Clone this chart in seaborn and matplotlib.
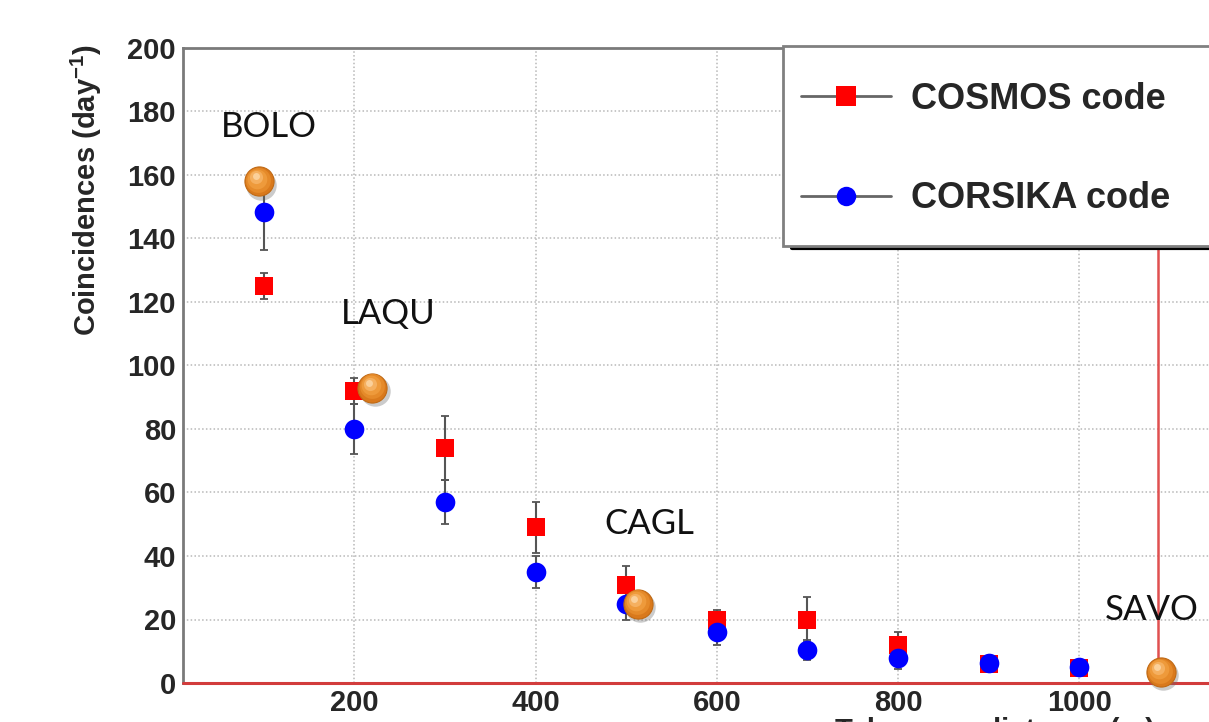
import numpy as np
import pandas as pd
import matplotlib
matplotlib.use("Agg")
import matplotlib.pyplot as plt
import matplotlib.transforms as mtransforms
from matplotlib.lines import Line2D
from matplotlib.patches import Rectangle
import seaborn as sns

# ---------------- data ----------------
distance = [100, 200, 300, 400, 500, 600, 700, 800, 900, 1000]
cosmos = [125, 92, 74, 49, 31, 20, 20, 12, 6, 4.6]
cosmos_err = [4, 4, 10, 8, 6, 3, 7, 4, 1.5, 1.5]
corsika = [148.5, 80, 57, 35, 25, 16, 10.4, 8, 6.2, 5.1]
corsika_err = [12, 8, 7, 5, 5, 4, 3, 3.5, 1.5, 1.5]

sites = ["BOLO", "LAQU", "CAGL", "SAVO"]
site_x = [95, 220, 513, 1090]
site_y = [158, 93, 25, 3.5]
site_label_pos = [(53, 172), (185, 113), (476, 47), (1028, 20)]
savo_line_x = 1087

series_names = ["COSMOS code", "CORSIKA code"]

# ---------------- figure ----------------
sns.set_style("white")
plt.rcParams["font.family"] = ["Liberation Sans", "DejaVu Sans"]
plt.rcParams["mathtext.fontset"] = "custom"
plt.rcParams["mathtext.rm"] = "Liberation Sans:bold"
plt.rcParams["mathtext.bf"] = "Liberation Sans:bold"
plt.rcParams["mathtext.default"] = "bf"

W, H = 1209, 722
fig = plt.figure(figsize=(W / 100, H / 100), dpi=100)
ax = fig.add_axes([183 / W, 1 - 683 / H, (W - 183) / W, 635 / H])

ax.set_xlim(11, 1143)
ax.set_ylim(0, 200)

# grid
ax.set_xticks([200, 400, 600, 800, 1000])
ax.set_xticks(np.arange(50, 1143, 50), minor=True)
ax.set_yticks(np.arange(0, 201, 20))
ax.set_yticks(np.arange(0, 201, 5), minor=True)
ax.grid(True, which="major", color="#b8b8b8", linestyle=(0, (1, 1.5)), linewidth=1.1)
ax.set_axisbelow(True)

gray = "#7a7a7a"
ax.tick_params(axis="x", which="major", direction="in", length=14, width=1.6, color=gray,
               labelsize=21, pad=4)
ax.tick_params(axis="x", which="minor", direction="in", length=7, width=1.4, color=gray)
ax.tick_params(axis="y", which="major", direction="in", length=19, width=1.6, color=gray,
               labelsize=21, pad=5)
ax.tick_params(axis="y", which="minor", direction="in", length=10, width=1.4, color=gray)
for lab in ax.get_xticklabels() + ax.get_yticklabels():
    lab.set_fontweight("bold")

for side in ["left", "top", "bottom"]:
    ax.spines[side].set_color(gray)
    ax.spines[side].set_linewidth(2)
ax.spines["right"].set_visible(False)

# red lines (axis at 0 and SAVO vertical)
ax.axhline(0, color="#d23c3c", lw=2.2, zorder=3, clip_on=False)
ax.axvline(savo_line_x, color="#e05050", lw=1.8, zorder=2)

# error bars
ax.errorbar(distance, cosmos, yerr=cosmos_err, fmt="none", ecolor="#555555",
            elinewidth=1.5, capsize=3, capthick=1.3, zorder=3)
ax.errorbar(distance, corsika, yerr=corsika_err, fmt="none", ecolor="#555555",
            elinewidth=1.5, capsize=3, capthick=1.3, zorder=3)

df_cos = pd.DataFrame({"distance": distance, "rate": cosmos})
df_cor = pd.DataFrame({"distance": distance, "rate": corsika})
sns.scatterplot(data=df_cos, x="distance", y="rate", marker="s", s=180, color="#ff0000",
                linewidth=0, ax=ax, zorder=4)
sns.scatterplot(data=df_cor, x="distance", y="rate", marker="o", s=200, color="#0000ff",
                linewidth=0, ax=ax, zorder=5)

# orange "spheres"
df_sites = pd.DataFrame({"x": site_x, "y": site_y})
shadow_tr = mtransforms.offset_copy(ax.transData, fig=fig, x=1.5, y=-2.5, units="points")
sns.scatterplot(data=df_sites, x="x", y="y", s=480, color="#6a6a6a", alpha=0.35,
                linewidth=0, ax=ax, zorder=6, transform=shadow_tr, clip_on=False)
sns.scatterplot(data=df_sites, x="x", y="y", s=440, color="#d9791c", edgecolor="#c06a15",
                linewidth=0.8, ax=ax, zorder=7, clip_on=False)
layers = [(320, "#e58a2a", -0.6, 0.9), (200, "#ee9a3b", -1.2, 1.8),
          (90, "#f5b060", -2.0, 2.8), (25, "#fbd09a", -2.6, 3.6)]
for k, (sz, col, dx, dy) in enumerate(layers):
    tr = mtransforms.offset_copy(ax.transData, fig=fig, x=dx, y=dy, units="points")
    sns.scatterplot(data=df_sites, x="x", y="y", s=sz, color=col, linewidth=0, ax=ax,
                    zorder=8 + k, transform=tr, clip_on=False)

for name, (lx, ly) in zip(sites, site_label_pos):
    ax.text(lx, ly, name, fontsize=25, family=["Lato", "DejaVu Sans"], color="#111111",
            va="baseline", ha="left", zorder=12)

ax.set_xlabel("")
ax.set_ylabel(r"Coincidences (day$^{-1}$)", fontsize=21, fontweight="bold")
ax.yaxis.set_label_coords((104 - 183) / (W - 183), (683 - 190) / 635)

# x-axis title, cropped at the bottom edge as in the original image
fig.text(995 / W, 1 - 717 / H, "Telescope distance (m)", fontsize=21, fontweight="bold",
         ha="center", va="top")

# legend box
box = Rectangle((783 / W, 1 - 246 / H), (W + 20 - 783) / W, 200 / H,
                transform=fig.transFigure, facecolor="white", edgecolor="#808080",
                linewidth=2, zorder=20)
fig.patches.append(box)
fig.lines.append(Line2D([792 / W, 1.02], [1 - 248 / H, 1 - 248 / H], transform=fig.transFigure,
                        color="black", lw=3, zorder=19))

handles = [
    Line2D([], [], color="#666666", lw=2, marker="s", markersize=14,
           markerfacecolor="#ff0000", markeredgewidth=0),
    Line2D([], [], color="#666666", lw=2, marker="o", markersize=14,
           markerfacecolor="#0000ff", markeredgewidth=0),
]
leg = fig.legend(handles, series_names, loc="upper left",
                 bbox_to_anchor=(801 / W, 1 - 82 / H), bbox_transform=fig.transFigure,
                 frameon=False, prop={"weight": "bold", "size": 26},
                 handlelength=2.5, handletextpad=0.55, labelspacing=1.78,
                 borderpad=0, borderaxespad=0)
leg.set_zorder(25)

fig.savefig("out.png", dpi=100)
